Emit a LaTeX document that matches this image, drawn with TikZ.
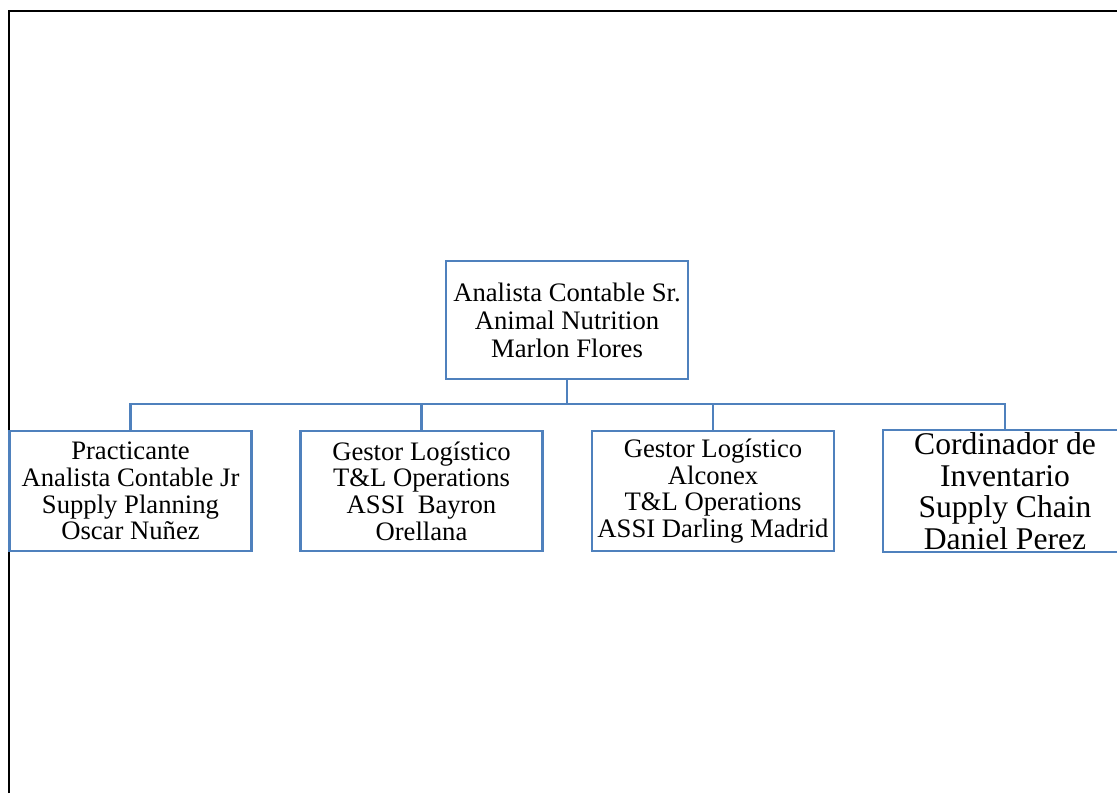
\documentclass[tikz,border=0pt]{standalone}
\usepackage{fontspec}
\setmainfont{Liberation Serif}
\usepackage{tikz}
\definecolor{boxblue}{RGB}{79,129,189}

\begin{document}
\begin{tikzpicture}[x=0.75pt,y=-0.75pt,
				boss/.style={rectangle, draw=boxblue, line width=1.8pt, align=center,
					minimum width=181.5pt, minimum height=88.5pt, inner sep=0pt,
					font=\fontsize{20}{21}\selectfont},
				staff/.style={rectangle, draw=boxblue, line width=1.8pt, align=center,
					minimum width=181.5pt, minimum height=90pt, inner sep=0pt,
					font=\fontsize{20}{20}\selectfont},
				staffL/.style={staff, draw=none, inner ysep=-6pt, font=\fontsize{23.7}{23.7}\selectfont},
				link/.style={draw=boxblue, line width=1.8pt}]
	\useasboundingbox (0,0) rectangle (1117,793);
	\draw[line width=1.6pt] (9,793) -- (9,11) -- (1117,11);
	\node[boss] (M) at (567,320) {Analista Contable Sr.\\Animal Nutrition\\Marlon Flores};
	\node[staff] (O) at (130.5,491) {Practicante\\Analista Contable Jr\\Supply Planning\\Oscar Nuñez};
	\node[staff] (B) at (421.5,491) {Gestor Logístico\\T\&L Operations\\ASSI\ \ Bayron\\Orellana};
	\node[staff] (D) at (713,491) {Gestor Logístico\\Alconex\\T\&L Operations\\ASSI Darling Madrid};
	\node[staffL] (P) at (1005,491) {Cordinador de\\Inventario\\Supply Chain\\Daniel Perez};
	\draw[link] (P.north west) ++(260,0) -- (P.north west) -- (P.south west) -- ++(260,0);
	\coordinate (bus) at (567,404);
	\draw[link] (M) -- (bus);
	\draw[link] (bus) -| (O);
	\draw[link] (bus) -| (B);
	\draw[link] (bus) -| (D);
	\draw[link] (bus) -| (P);
\end{tikzpicture}
\end{document}
